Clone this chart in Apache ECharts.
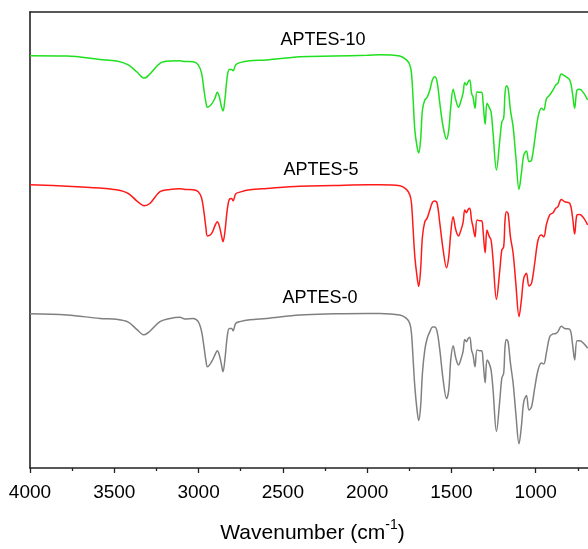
<!DOCTYPE html>
<html>
<head>
    <meta charset="utf-8">
    <title>FTIR APTES</title>
    <script src="https://cdn.jsdelivr.net/npm/echarts@6/dist/echarts.min.js"></script>
    <style>
        html, body { margin: 0; padding: 0; background: #fff; }
    </style>
</head>
<body>
    <div id="main" style="width: 588px;height:549px;"></div>

    <script type="text/javascript">
        // 波数 (cm-1)
        var wavenumbers = [4000, 3780, 3585, 3486, 3417, 3367, 3322, 3289, 3229, 3170,
            3111, 3081, 3032, 3002, 2982, 2968, 2957, 2947, 2923, 2903,
            2889, 2877, 2864, 2855, 2844, 2830, 2818, 2804, 2795, 2780,
            2755, 2696, 2597, 2399, 2200, 2000, 1925, 1806, 1767, 1747,
            1737, 1727, 1717, 1704, 1694, 1683, 1672, 1658, 1644, 1628,
            1612, 1599, 1585, 1569, 1549, 1529, 1516, 1504, 1490, 1474,
            1458, 1445, 1431, 1421, 1411, 1401, 1391, 1381, 1372, 1360,
            1348, 1332, 1320, 1312, 1300, 1289, 1277, 1265, 1253, 1233,
            1213, 1201, 1190, 1182, 1174, 1164, 1150, 1134, 1118, 1099,
            1085, 1071, 1055, 1040, 1025, 1006, 986, 966, 952, 937,
            917, 897, 881, 868, 848, 828, 798, 782, 769, 755,
            739, 715, 692];

        var aptes10 = [90.4, 90.35, 89.6, 89.25, 88.4, 86.9, 85.5, 86.4, 88.75, 89.25,
            89.3, 89.15, 89.1, 88.4, 86.55, 82.9, 80.3, 79.1, 79.8, 81.1,
            82.4, 81.4, 79.2, 78.3, 80.7, 85.8, 87.4, 87.4, 87.1, 88.4,
            88.9, 89.3, 89.5, 90.2, 90.35, 90.5, 90.6, 90.35, 89.5, 88.4,
            86.55, 80.7, 74.1, 70.5, 69.1, 71.9, 78.5, 80.7, 81.3, 82.9,
            85.2, 85.8, 84.7, 80.0, 74.8, 72.1, 74.1, 79.2, 83.05, 80.7,
            79.1, 80.3, 82.2, 84.5, 84.0, 84.7, 85.1, 82.2, 81.4, 78.9,
            82.5, 82.4, 82.4, 80.0, 75.4, 80.0, 79.2, 78.1, 73.4, 65.35,
            71.9, 75.9, 76.7, 82.2, 83.8, 83.3, 78.5, 74.8, 68.3, 61.1,
            64.6, 68.6, 69.5, 67.2, 67.5, 71.9, 77.0, 78.9, 78.5, 80.9,
            81.8, 82.9, 84.0, 84.4, 86.4, 86.0, 85.1, 82.2, 78.9, 82.9,
            83.05, 82.2, 80.7];

        var aptes5 = [62.1, 61.8, 61.4, 61.0, 60.2, 58.6, 57.5, 58.0, 60.6, 61.1,
            61.25, 61.1, 61.0, 60.6, 59.2, 56.1, 52.9, 50.9, 51.4, 53.1,
            54.0, 53.1, 50.9, 49.6, 51.75, 56.6, 58.9, 59.1, 58.6, 60.1,
            60.5, 61.0, 61.3, 61.8, 61.95, 62.1, 62.1, 61.9, 61.1, 59.9,
            58.05, 52.2, 46.3, 41.95, 39.8, 43.4, 50.7, 54.0, 54.8, 56.6,
            58.3, 58.55, 58.05, 53.7, 47.8, 43.9, 46.3, 51.5, 55.1, 52.2,
            50.9, 52.0, 53.8, 56.6, 56.0, 56.7, 56.95, 54.4, 52.9, 50.7,
            54.4, 54.2, 54.2, 51.8, 47.2, 52.2, 50.9, 50.0, 45.6, 37.0,
            43.4, 47.8, 48.5, 54.4, 56.2, 55.85, 50.7, 47.1, 40.5, 33.2,
            36.8, 41.6, 42.7, 39.9, 40.5, 44.9, 50.0, 51.1, 50.7, 53.3,
            55.5, 56.0, 56.95, 57.3, 58.9, 58.4, 58.05, 55.1, 51.3, 55.5,
            55.6, 54.8, 53.3];

        var aptes0 = [33.8, 33.55, 32.8, 32.6, 32.0, 30.4, 29.2, 30.0, 32.1, 32.8,
            33.05, 32.7, 32.8, 32.1, 29.9, 26.6, 23.7, 22.2, 23.3, 24.8,
            25.7, 24.8, 22.6, 21.1, 23.7, 28.8, 30.6, 30.6, 30.1, 31.7,
            32.1, 32.5, 32.8, 33.55, 33.8, 33.9, 33.9, 33.55, 32.8, 31.7,
            29.5, 23.7, 17.8, 12.7, 10.4, 13.4, 20.8, 25.9, 28.4, 29.9,
            30.9, 30.9, 29.9, 25.9, 19.3, 15.2, 17.1, 23.7, 26.8, 24.1,
            22.6, 23.7, 25.5, 28.2, 27.7, 28.4, 28.7, 25.9, 24.8, 22.2,
            25.9, 25.7, 25.7, 23.3, 18.7, 23.7, 23.0, 21.5, 17.1, 8.0,
            14.9, 19.7, 20.8, 26.6, 28.2, 27.7, 23.0, 18.6, 12.0, 5.3,
            9.1, 14.5, 15.9, 12.7, 13.4, 17.5, 21.5, 23.0, 22.8, 25.2,
            28.8, 29.4, 29.5, 29.9, 31.1, 30.6, 30.4, 27.3, 23.7, 27.9,
            27.9, 27.3, 26.25];

        var seriesNames = ['APTES-10', 'APTES-5', 'APTES-0'];
        var seriesColors = ['#1ee01e', '#ff1a1a', '#808080'];

        var pairs = function (ys) {
            return wavenumbers.map(function (w, i) { return [w, ys[i]]; });
        };

        var font = 'Arial, "Liberation Sans", sans-serif';
        var chart = echarts.init(document.getElementById('main'));

        var makeLine = function (name, ys, color) {
            return {
                name: name,
                type: 'line',
                data: pairs(ys),
                smooth: 0.35,
                showSymbol: false,
                lineStyle: { color: color, width: 1.5 },
                itemStyle: { color: color },
                animation: false
            };
        };

        chart.setOption({
            animation: false,
            grid: { left: 30, top: 12, width: 590, height: 456, outerBoundsMode: 'none', containLabel: false },
            xAxis: [{
                type: 'value',
                inverse: true,
                min: 500,
                max: 4000,
                interval: 500,
                name: '{a|Wavenumber (cm}{s|-1}{a|)}',
                nameLocation: 'middle',
                nameGap: 50,
                nameTextStyle: {
                    padding: [0, 25, 0, 0],
                    rich: {
                        a: { fontSize: 21, fontFamily: font, color: '#000', lineHeight: 27 },
                        s: { fontSize: 14, fontFamily: font, color: '#000', padding: [0, 0, 17, 0] }
                    }
                },
                axisLine: { lineStyle: { color: '#222', width: 1.6 } },
                axisTick: { show: true, length: 5, lineStyle: { color: '#222', width: 1.3 } },
                minorTick: { show: true, splitNumber: 2, length: 3, lineStyle: { color: '#222', width: 1.3 } },
                axisLabel: {
                    fontSize: 19, fontFamily: font, color: '#000', margin: 15,
                    formatter: function (v) { return String(v); }
                },
                splitLine: { show: false }
            }, {
                type: 'value',
                position: 'top',
                inverse: true,
                min: 500,
                max: 4000,
                axisLine: { lineStyle: { color: '#222', width: 1.6 } },
                axisTick: { show: false },
                axisLabel: { show: false },
                splitLine: { show: false }
            }],
            yAxis: {
                type: 'value',
                min: 0,
                max: 100,
                axisLine: { show: true, lineStyle: { color: '#222', width: 1.6 } },
                axisTick: { show: false },
                axisLabel: { show: false },
                splitLine: { show: false }
            },
            graphic: [
                { type: 'text', x: 323, y: 40, style: { text: seriesNames[0], font: '18px ' + font, fill: '#000', textAlign: 'center', textVerticalAlign: 'middle' } },
                { type: 'text', x: 321, y: 170, style: { text: seriesNames[1], font: '18px ' + font, fill: '#000', textAlign: 'center', textVerticalAlign: 'middle' } },
                { type: 'text', x: 320, y: 298, style: { text: seriesNames[2], font: '18px ' + font, fill: '#000', textAlign: 'center', textVerticalAlign: 'middle' } }
            ],
            series: [
                makeLine(seriesNames[0], aptes10, seriesColors[0]),
                makeLine(seriesNames[1], aptes5, seriesColors[1]),
                makeLine(seriesNames[2], aptes0, seriesColors[2])
            ]
        });
    </script>
</body>
</html>
